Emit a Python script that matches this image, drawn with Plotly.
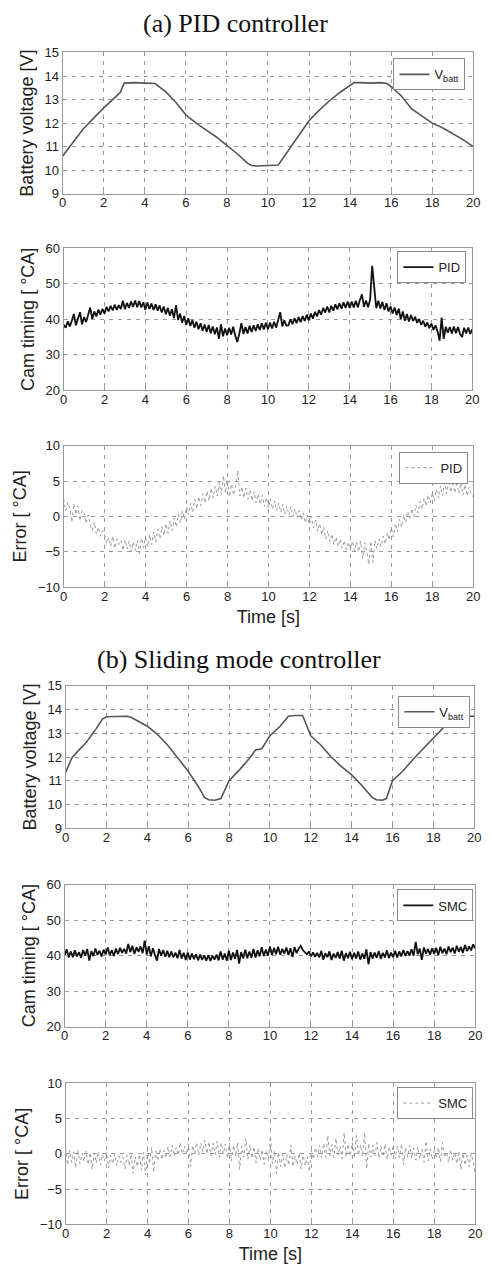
import plotly.graph_objects as go

W, H = 492, 1274

# ---------------- data ----------------
# (a) PID: battery voltage breakpoints
pid_batt_t = [0, 0.5, 1, 1.5, 2, 2.5, 2.8, 3.0, 3.5, 4.0, 4.5, 5.0, 5.5, 6.0, 6.5, 7.0,
              7.5, 8.0, 8.5, 9.0, 9.2, 9.5, 10.0, 10.5, 11, 11.5, 12, 12.5, 13, 13.5,
              14, 14.2, 14.5, 15, 15.5, 15.8, 16, 16.5, 17, 17.5, 18, 18.5, 19, 19.5, 20]
pid_batt_v = [10.6, 11.2, 11.75, 12.2, 12.65, 13.05, 13.3, 13.7, 13.72, 13.7, 13.68, 13.35,
              12.9, 12.35, 12.0, 11.7, 11.4, 11.05, 10.7, 10.3, 10.2, 10.18, 10.2, 10.22,
              10.85, 11.45, 12.1, 12.55, 12.95, 13.3, 13.6, 13.72, 13.72, 13.7, 13.72, 13.68,
              13.55, 13.15, 12.6, 12.3, 12.0, 11.8, 11.55, 11.3, 11.0]

# sample times for the cam timing / error records (0.1 s)
t_rec = [round(i * 0.1, 1) for i in range(201)]

pid_cam = [
    38.5, 37.6, 39.4, 38.0, 39.6, 41.5, 38.3, 39.9, 42.0, 38.6,
    40.6, 39.2, 41.0, 43.3, 40.1, 42.2, 40.8, 42.7, 41.3, 42.9,
    41.6, 43.5, 42.2, 43.8, 42.5, 44.1, 42.6, 44.0, 42.9, 45.2,
    42.8, 44.6, 43.2, 45.0, 43.5, 45.3, 43.4, 45.1, 43.3, 44.8,
    42.7, 44.7, 42.9, 44.4, 42.6, 44.2, 42.4, 43.9, 41.9, 43.6,
    41.4, 43.2, 41.0, 42.8, 40.3, 44.0, 39.8, 41.6, 39.0, 40.9,
    38.4, 40.3, 38.1, 39.8, 37.6, 39.3, 37.2, 38.9, 36.8, 38.5,
    36.4, 38.4, 36.1, 38.0, 35.8, 37.7, 34.5, 38.6, 35.2, 37.4,
    35.5, 37.6, 35.7, 37.9, 35.4, 33.6, 36.0, 38.9, 35.9, 37.8,
    36.0, 38.2, 36.4, 38.3, 36.7, 38.6, 37.0, 38.9, 37.1, 39.0,
    37.2, 39.1, 37.4, 39.3, 37.6, 39.5, 42.0, 38.0, 39.7, 38.2,
    38.3, 40.0, 38.6, 40.3, 38.9, 40.6, 39.2, 40.9, 39.5, 41.3,
    39.7, 41.6, 40.2, 42.1, 40.8, 42.6, 41.3, 43.2, 41.9, 43.6,
    41.9, 43.8, 42.4, 44.2, 42.8, 44.5, 43.0, 44.8, 43.2, 45.0,
    43.2, 45.0, 43.3, 45.2, 43.4, 45.4, 47.0, 43.5, 45.3, 43.4,
    45.6, 55.0, 49.0, 43.1, 45.2, 43.0, 44.9, 42.6, 44.5, 42.2,
    43.6, 41.6, 43.3, 41.2, 43.0, 40.0, 42.2, 39.6, 41.5, 39.4,
    41.2, 39.5, 40.7, 39.0, 40.1, 38.4, 39.6, 37.9, 39.1, 37.5,
    38.8, 37.0, 38.3, 36.6, 34.0, 40.5, 34.5, 37.9, 36.2, 37.8,
    36.0, 38.0, 36.1, 37.8, 35.9, 35.0, 37.6, 36.0, 37.7, 35.9,
    37.2]

pid_err = [
    2.5, 0.8, 2.0, 1.2, -0.8, 1.8, 0.3, 1.5, -0.6, 0.9,
    0.5, -1.0, 0.2, -1.2, -2.0, -0.8, -2.5, -1.5, -2.8, -2.0,
    -2.6, -3.8, -3.0, -4.2, -2.8, -4.5, -3.2, -4.0, -3.4, -4.8,
    -3.3, -4.6, -3.5, -5.0, -3.6, -4.8, -3.4, -5.2, -3.1, -4.4,
    -3.0, -4.3, -2.6, -4.0, -2.2, -3.6, -1.8, -3.2, -1.4, -2.7,
    -1.0, -2.4, -0.6, -2.0, -0.2, -1.5, 0.3, -0.9, 0.8, -0.4,
    1.3, 0.2, 1.9, 0.6, 2.4, 1.1, 2.8, 1.5, 3.2, 1.9,
    3.6, 2.2, 4.0, 2.6, 4.3, 2.9, 4.8, 3.1, 5.8, 3.3,
    5.2, 2.8, 4.6, 3.0, 4.4, 6.5, 2.9, 4.2, 2.6, 4.0,
    2.4, 3.8, 2.2, 3.5, 1.9, 3.2, 1.7, 3.0, 1.4, 2.7,
    1.2, 2.5, 1.0, 2.2, 0.8, 1.9, 0.6, 1.7, 0.3, 1.5,
    0.2, 1.4, 0.0, 1.1, -0.2, 0.8, -0.5, 0.5, -0.9, 0.2,
    -1.2, 0.0, -1.6, -0.5, -2.1, -1.0, -2.6, -1.5, -3.2, -2.0,
    -3.6, -2.5, -4.0, -2.9, -4.3, -3.2, -4.5, -3.4, -4.7, -3.6,
    -4.8, -3.5, -4.9, -3.6, -5.0, -3.5, -6.0, -3.7, -4.9, -6.8,
    -3.5, -6.5, -3.4, -4.6, -3.2, -4.3, -2.8, -3.9, -2.3, -3.3,
    -1.6, -2.9, -1.0, -2.2, -0.4, -1.5, 0.2, -0.9, 0.7, -0.3,
    1.1, 0.0, 1.6, 0.5, 2.1, 1.0, 2.6, 1.5, 3.0, 1.9,
    3.3, 2.2, 3.8, 2.6, 4.3, 2.9, 4.8, 3.2, 5.2, 3.4,
    4.6, 3.3, 5.0, 3.2, 4.8, 3.0, 4.5, 2.9, 4.2, 3.0,
    2.8]

# (b) SMC: battery voltage breakpoints
smc_batt_t = [0, 0.3, 0.6, 1, 1.5, 1.8, 2.0, 2.5, 3.0, 3.2, 3.5, 4, 4.5, 5, 5.5, 6, 6.5,
              6.8, 7.0, 7.3, 7.6, 8, 8.5, 9, 9.3, 9.6, 10, 10.5, 10.9, 11.2, 11.6, 11.8,
              12.0, 12.5, 13, 13.5, 14, 14.5, 15, 15.2, 15.5, 15.7, 16, 16.5, 17, 17.5,
              18, 18.5, 19, 19.3, 19.6, 20]
smc_batt_v = [11.35, 11.95, 12.25, 12.6, 13.2, 13.6, 13.7, 13.72, 13.72, 13.68, 13.55,
              13.3, 12.95, 12.5, 11.95, 11.4, 10.75, 10.3, 10.2, 10.18, 10.25, 11.0, 11.45,
              11.95, 12.3, 12.35, 12.9, 13.3, 13.72, 13.75, 13.75, 13.3, 12.9, 12.5, 12.0,
              11.6, 11.25, 10.8, 10.3, 10.2, 10.18, 10.25, 11.0, 11.4, 11.9, 12.35, 12.8,
              13.25, 13.55, 13.7, 13.72, 13.72]

smc_cam = [
    40.0, 41.8, 39.5, 41.2, 39.6, 41.5, 39.8, 41.0, 39.4, 41.6,
    40.0, 41.9, 38.6, 41.3, 39.9, 42.0, 40.2, 41.4, 39.8, 41.7,
    40.3, 42.3, 40.1, 41.6, 39.9, 42.0, 40.4, 42.2, 40.8, 41.9,
    40.6, 43.3, 41.0, 42.8, 40.5, 42.4, 41.1, 42.6, 40.7, 44.2,
    40.3, 42.7, 39.8, 42.1, 40.2, 38.6, 41.9, 40.0, 41.6, 39.7,
    41.4, 39.6, 41.2, 39.5, 40.9, 39.3, 41.6, 39.2, 40.8, 38.8,
    40.9, 38.9, 40.6, 39.0, 40.4, 38.7, 40.3, 38.8, 40.1, 38.6,
    40.2, 38.5, 40.0, 38.9, 40.3, 38.7, 41.2, 38.9, 40.6, 38.6,
    41.4, 38.8, 40.9, 39.1, 41.6, 37.8, 41.0, 39.2, 41.7, 39.3,
    41.2, 39.4, 41.9, 39.5, 41.5, 39.8, 42.4, 39.9, 41.7, 40.0,
    42.6, 40.2, 42.2, 40.4, 42.5, 40.3, 41.9, 40.6, 42.3, 40.2,
    42.1, 39.6, 42.4, 40.7, 42.0, 42.8, 41.6, 41.0, 40.4, 41.2,
    39.8, 40.9, 39.7, 40.8, 39.5, 41.3, 38.9, 40.7, 39.6, 41.2,
    38.8, 40.6, 39.4, 41.0, 39.2, 41.4, 38.6, 40.7, 39.3, 41.1,
    39.0, 40.8, 39.2, 41.2, 38.9, 40.6, 39.1, 41.8, 37.6, 41.0,
    39.2, 40.9, 39.4, 41.3, 39.1, 40.8, 39.5, 41.5, 39.3, 40.9,
    39.6, 41.4, 39.5, 41.2, 39.8, 41.6, 39.9, 41.3, 40.1, 41.8,
    40.0, 43.9, 40.4, 42.0, 38.8, 42.3, 40.6, 41.9, 40.3, 42.1,
    40.5, 42.2, 40.1, 42.5, 40.7, 42.0, 40.4, 42.6, 41.0, 42.3,
    40.6, 42.8, 41.1, 42.4, 40.8, 43.0, 41.3, 42.6, 41.5, 43.2,
    42.0]

smc_err = [
    0.8, -1.6, 0.5, -1.2, 0.3, -2.0, 0.6, -1.4, 0.1, -1.1,
    0.4, -1.5, 0.2, -2.2, 0.1, -1.3, 0.3, -1.6, -0.1, -1.0,
    0.2, -2.0, -0.2, -1.4, 0.0, -1.7, -0.3, -1.2, -0.5, -2.1,
    -0.2, -1.6, 0.0, -2.8, -0.4, -1.8, -0.1, -2.3, 0.2, -3.0,
    0.6, -1.4, 0.9, -2.6, 0.4, -1.0, 0.7, -0.8, 0.5, -0.6,
    1.0, -0.4, 1.2, -0.3, 0.9, -0.2, 1.6, 0.0, 1.1, -0.1,
    1.4, -1.8, 1.2, 0.1, 1.6, -0.2, 1.5, 0.3, 1.9, 0.0,
    1.7, -0.3, 1.5, -0.1, 1.8, -0.5, 1.6, 0.0, 1.4, -0.6,
    1.5, -1.0, 1.2, -0.4, 1.6, -2.2, 1.1, -0.5, 2.2, -0.8,
    1.3, -0.6, 1.0, -1.3, 0.8, -0.9, 0.6, -1.5, 0.5, -1.1,
    2.5, -1.4, 0.4, -2.8, 0.2, -1.8, 0.0, -2.0, -0.1, -1.6,
    1.2, -1.8, -0.3, -1.5, 0.1, -2.1, -0.2, -1.7, -0.4, -2.5,
    0.5, -0.8, 0.9, -0.4, 1.2, -0.6, 1.5, -0.5, 2.6, -0.3,
    1.3, -0.5, 2.2, -0.2, 1.1, -0.7, 3.0, -0.4, 1.4, -0.3,
    1.6, -0.6, 2.6, -0.2, 1.3, -0.4, 3.0, -2.1, 1.5, -0.5,
    1.2, -0.3, 1.6, -0.6, 1.1, -0.4, 1.4, -0.8, 1.0, -0.2,
    1.3, -0.7, 1.1, -0.5, 1.4, -1.5, 0.9, -0.4, 1.2, -0.6,
    0.8, -0.9, 1.0, -0.7, 0.6, -1.2, 1.8, -1.0, 0.7, -0.8,
    0.5, -0.6, 0.9, -1.1, 1.6, -0.5, 0.3, -1.2, 0.6, -0.9,
    0.2, -1.4, 0.4, -2.2, 0.1, -1.6, -0.2, -1.8, 0.0, -1.0,
    -3.0]

x_ticks = [0, 2, 4, 6, 8, 10, 12, 14, 16, 18, 20]
batt_ticks = [9, 10, 11, 12, 13, 14, 15]
cam_ticks = [20, 30, 40, 50, 60]
err_ticks = [-10, -5, 0, 5, 10]

panel_titles = ["(a) PID controller", "(b) Sliding mode controller"]

# ---------------- layout geometry (pixels) ----------------
boxes = [  # left, right, top, bottom
    (60, 480, 46, 189),
    (61, 479, 244, 388),
    (61, 480, 444, 587),
    (63, 481, 687, 831),
    (62, 482, 888, 1032),
    (63, 482, 1089, 1232),
]
legend_boxes = [  # right, top
    (472, 52), (473, 247), (475, 450), (477, 697), (480, 893), (480, 1093)
]

SANS = "Liberation Sans, Arial, sans-serif"
SERIF = "Liberation Serif, Times New Roman, serif"

fig = go.Figure()

def ax_id(i):
    return "" if i == 1 else str(i)

def leg_id(i):
    return "legend" if i == 1 else "legend%d" % i

series = [
    (pid_batt_t, pid_batt_v, "V<sub>batt</sub>", dict(color="#555555", width=1.6)),
    (t_rec, pid_cam, "PID", dict(color="#111111", width=1.8)),
    (t_rec, pid_err, "PID", dict(color="#9a9a9a", width=1, dash="dot")),
    (smc_batt_t, smc_batt_v, "V<sub>batt</sub>", dict(color="#555555", width=1.6)),
    (t_rec, smc_cam, "SMC", dict(color="#111111", width=1.8)),
    (t_rec, smc_err, "SMC", dict(color="#9a9a9a", width=1, dash="dot")),
]

for i, (xs, ys, name, line) in enumerate(series, start=1):
    fig.add_trace(go.Scatter(x=xs, y=ys, mode="lines", name=name, line=line,
                             xaxis="x" + ax_id(i), yaxis="y" + ax_id(i),
                             legend=leg_id(i), showlegend=True))

ytitles = ["Battery voltage [V]", "Cam timing [ \u00b0CA]", "Error [ \u00b0CA]"] * 2
yranges = [(9, 15), (20, 60), (-10, 10)] * 2
yticks = [batt_ticks, cam_ticks, err_ticks] * 2

layout = dict(
    width=W, height=H,
    margin=dict(l=0, r=0, t=0, b=0),
    paper_bgcolor="white", plot_bgcolor="white",
    font=dict(family=SANS, color="#222"),
)

axis_common = dict(
    showgrid=True, gridcolor="#9a9a9a", gridwidth=1, griddash="4px,5px",
    showline=True, linecolor="#9a9a9a", linewidth=1, mirror=True,
    ticks="inside", ticklen=3, tickcolor="#9a9a9a",
    zeroline=False, tickfont=dict(family=SANS, size=13, color="#222"),
)

for i in range(1, 7):
    l, r, t, b = boxes[i - 1]
    xd = [l / W, r / W]
    yd = [1 - b / H, 1 - t / H]
    xa = dict(axis_common, domain=xd, range=[0, 20], tickvals=x_ticks,
              anchor="y" + ax_id(i), ticklabelstandoff=-3)
    if i in (3, 6):
        xa["title"] = dict(text="Time [s]", font=dict(family=SANS, size=18, color="#222"),
                           standoff=7)
    ya = dict(axis_common, domain=yd, range=list(yranges[i - 1]), tickvals=yticks[i - 1],
              anchor="x" + ax_id(i),
              title=dict(text=ytitles[i - 1], font=dict(family=SANS, size=18, color="#222"),
                         standoff=6))
    layout["xaxis" + ax_id(i)] = xa
    layout["yaxis" + ax_id(i)] = ya
    rx, ty = legend_boxes[i - 1]
    layout[leg_id(i)] = dict(
        x=rx / W, y=1 - ty / H, xanchor="right", yanchor="top",
        xref="paper", yref="paper",
        bgcolor="white", bordercolor="#8a8a8a", borderwidth=1,
        font=dict(family=SANS, size=13, color="#222"),
        itemclick=False,
    )

fig.update_layout(**layout)

fig.add_annotation(text=panel_titles[0], x=237 / W, y=1 - 17 / H, xref="paper", yref="paper",
                   xanchor="center", yanchor="middle",
                   showarrow=False, font=dict(family=SERIF, size=26, color="#111"))
fig.add_annotation(text=panel_titles[1], x=240 / W, y=1 - 660 / H, xref="paper", yref="paper",
                   xanchor="center", yanchor="middle",
                   showarrow=False, font=dict(family=SERIF, size=26, color="#111"))

fig.write_html("out.html", config={"displayModeBar": False},
               post_script="document.body.style.margin='0px';document.body.style.overflow='hidden';")
